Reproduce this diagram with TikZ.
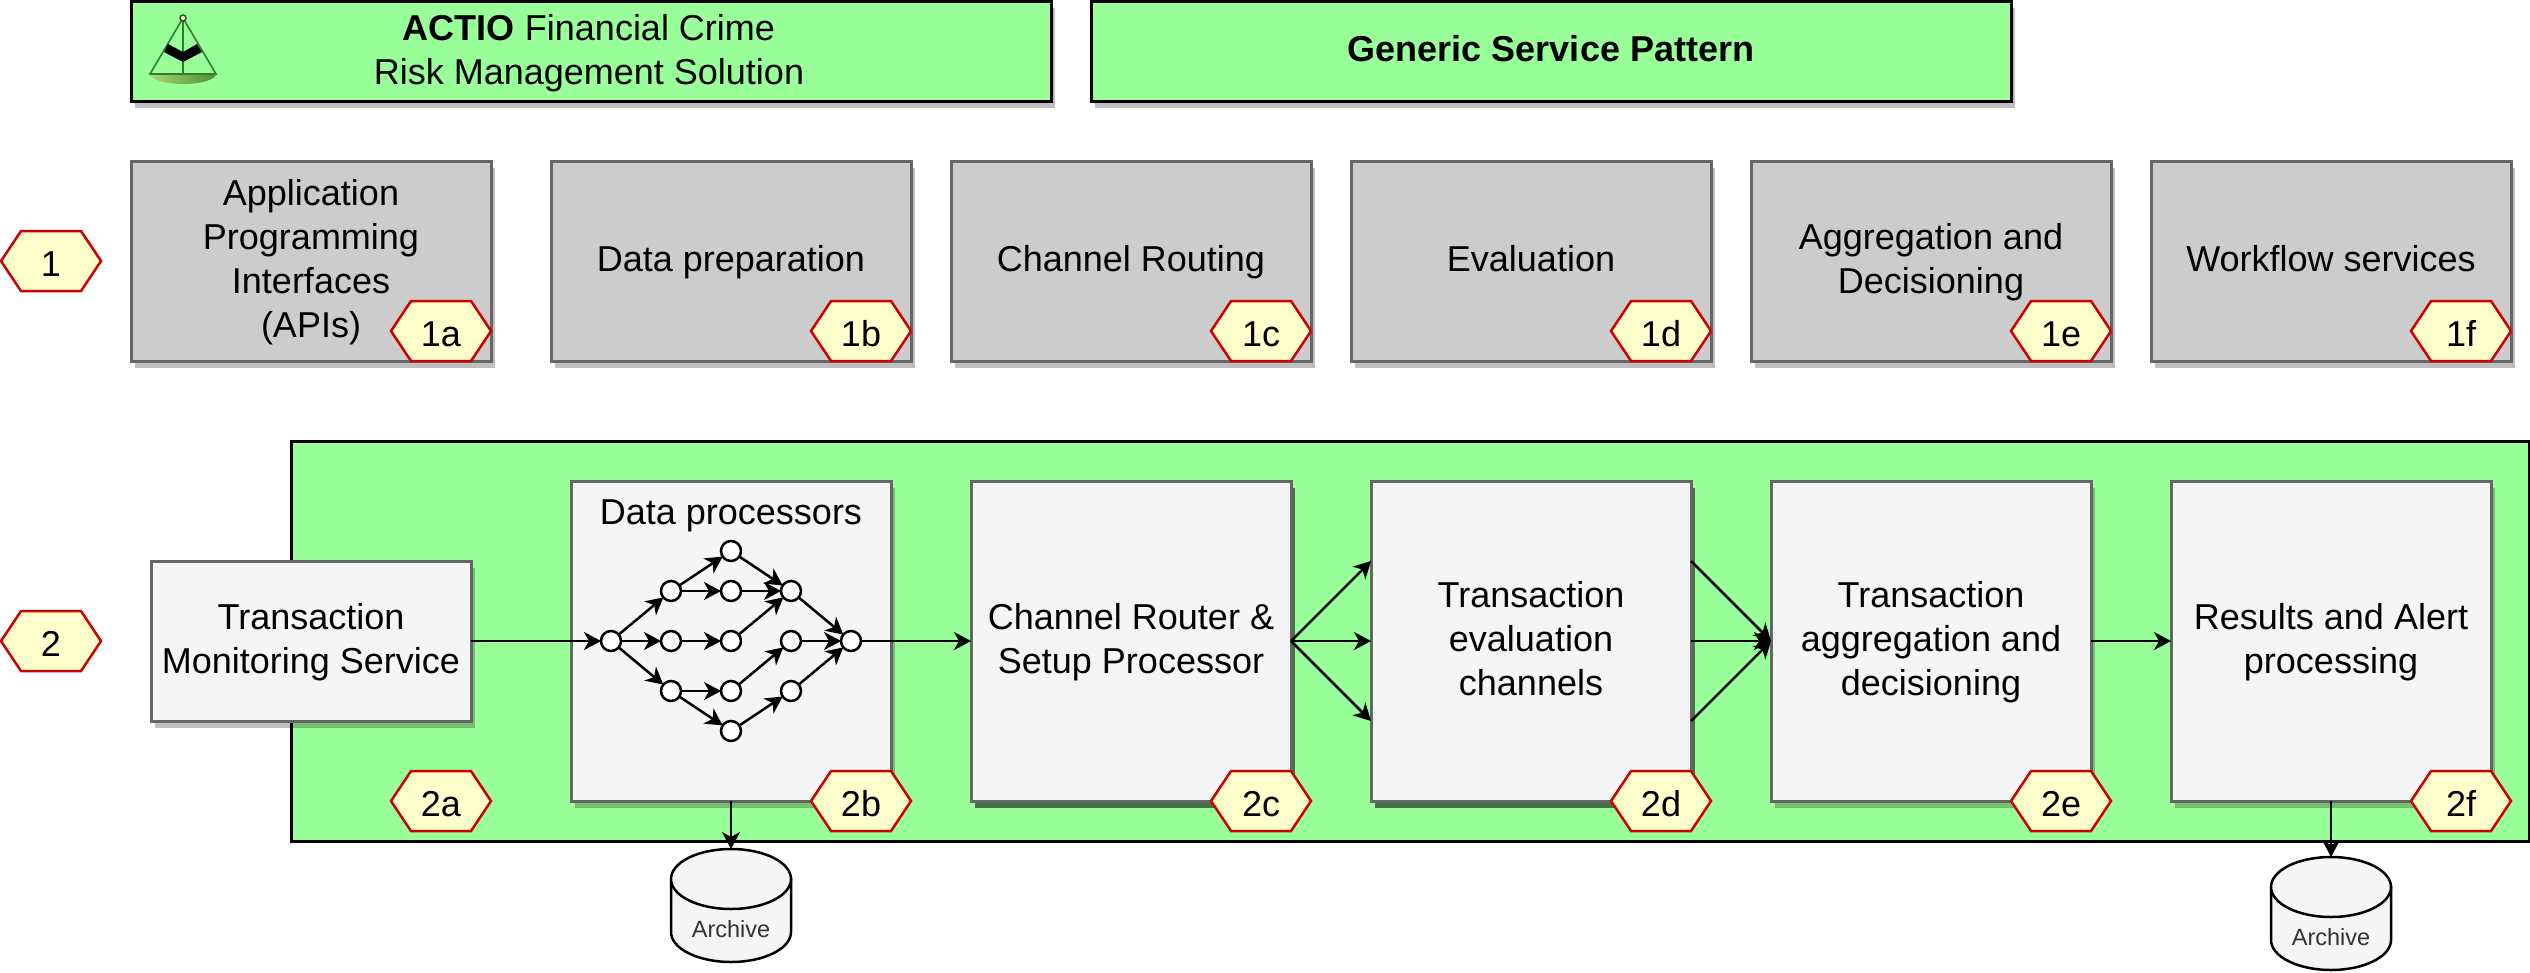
\documentclass[tikz,border=0pt]{standalone}
\usepackage{fontspec}
\setmainfont{Liberation Sans}
\usetikzlibrary{arrows.meta,shadows,shadings}
\definecolor{cgreen}{HTML}{99FF99}
\definecolor{cgrey}{HTML}{CCCCCC}
\definecolor{cpale}{HTML}{F5F5F5}
\definecolor{cedge}{HTML}{666666}
\definecolor{chex}{HTML}{FFFFCC}
\definecolor{chexl}{HTML}{CC0000}
\definecolor{lgreen}{HTML}{2F7F2F}
\definecolor{panl}{HTML}{A6D873}
\definecolor{panr}{HTML}{4F8F35}
\newcommand\bigfont{\fontsize{36}{44}\selectfont}
\newcommand\tstrut{\rule[-10pt]{0pt}{41.8pt}}
\newcommand\ltxt[1]{\tstrut #1\tstrut}
\tikzset{
  x=1pt,y=-1pt,
  base/.style={outer sep=0pt,inner sep=0pt,align=center,font=\bigfont,text=black},
  softshadow/.style={general shadow={fill=black,opacity=#1,shadow xshift=4pt,shadow yshift=-6.5pt}},
  softshadow/.default=.25,
  titlebox/.style={base,draw=black,line width=3pt,fill=cgreen,minimum width=920pt,minimum height=100pt,softshadow},
  greybox/.style={base,draw=cedge,line width=3pt,fill=cgrey,minimum width=360pt,minimum height=200pt,softshadow},
  palebox/.style={base,draw=cedge,line width=3pt,fill=cpale,minimum width=320pt,minimum height=320pt,softshadow=#1},
  palebox/.default=.25,
  hexline/.style={draw=chexl,line width=2.5pt,fill=chex,line join=miter},
  hexlabel/.style={base},
  dot/.style={circle,draw=black,fill=white,line width=2.5pt,minimum size=20pt,inner sep=0pt,outer sep=0pt},
  arr/.style={draw=black,line width=2.5pt,-{Stealth[length=17pt,width=18pt,inset=5pt]}},
  cyl/.style={draw=black,line width=2.5pt,fill=cpale},
  cyllabel/.style={outer sep=0pt,inner sep=0pt,font=\fontsize{23.5}{28}\selectfont,text=black!80},
}
\newcommand\hexn[3]{\begin{scope}[shift={(#2)}]
  \path[hexline] (-50,0)--(-30,-30)--(30,-30)--(50,0)--(30,30)--(-30,30)--cycle;
  \node[hexlabel] (#1) at (0,4.5) {\ltxt{#3}};
\end{scope}}
\newcommand\cylin[3]{% name, top-centre, height
\begin{scope}[shift={(#2)}]
  \path[cyl] (-60,30) -- (60,30) -- (60,#3-30)
     arc[x radius=60,y radius=30,start angle=0,end angle=180] -- cycle;
  \path[cyl] (0,30) ellipse[x radius=60,y radius=30];
  \coordinate (#1top) at (0,0);
  \node[cyllabel] (#1) at (0,80.5) {Archive};
\end{scope}}
\begin{document}
\begin{tikzpicture}
\useasboundingbox (0,0) rectangle (2530,972);
% title boxes
\node[titlebox] (title1) at (591,51) {};
\node[base] (title1text) at (589,51.5) {\ltxt{\textbf{ACTIO} Financial Crime\\Risk Management Solution}};
\node[titlebox] (title2) at (1551,51) {\ltxt{\textbf{Generic Service Pattern}}};
% logo
\shade[left color=panl,right color=panr] (150,74) arc[x radius=33,y radius=10,start angle=180,end angle=0] -- cycle;
\draw[lgreen,line width=1.6pt] (150,74) -- (183,18) -- (216,74) -- cycle (183,18) -- (183,74);
\fill[black] (168,44) -- (183,52) -- (197,44) -- (202,52) -- (183,62) -- (164,52) -- cycle;
\draw[lgreen!70!black,fill=white,line width=1.5pt] (183,18) circle (3);
% group labels
\hexn{h1}{51,261}{1}
\hexn{h2}{51,641}{2}
% row 1
\node[greybox] (a1box) at (311,261) {\ltxt{Application\\Programming\\Interfaces\\(APIs)}};
\node[greybox] (b1box) at (731,261) {\ltxt{Data preparation}};
\node[greybox] (c1box) at (1131,261) {\ltxt{Channel Routing}};
\node[greybox] (d1box) at (1531,261) {\ltxt{Evaluation}};
\node[greybox] (e1box) at (1931,261) {\ltxt{Aggregation and\\Decisioning}};
\node[greybox] (f1box) at (2331,261) {\ltxt{Workflow services}};
\hexn{h1a}{441,331}{1a}
\hexn{h1b}{861,331}{1b}
\hexn{h1c}{1261,331}{1c}
\hexn{h1d}{1661,331}{1d}
\hexn{h1e}{2061,331}{1e}
\hexn{h1f}{2461,331}{1f}
% green band
\node[base,draw=black,line width=3pt,fill=cgreen,minimum width=2238pt,minimum height=400pt] (band) at (1410,641) {};
% row 2
\node[palebox,minimum height=160pt] (tms) at (311,641) {\ltxt{Transaction\\Monitoring Service}};
\node[palebox] (dp) at (731,641) {};
\node[base] (dptext) at (731,514) {\ltxt{Data processors}};
\node[palebox=.55] (router) at (1131,641) {\ltxt{Channel Router \&\\Setup Processor}};
\node[palebox=.55] (evalch) at (1531,641) {\ltxt{Transaction\\evaluation\\channels}};
\node[palebox] (aggr) at (1931,641) {\ltxt{Transaction\\aggregation and\\decisioning}};
\node[palebox] (res) at (2331,641) {\ltxt{Results and Alert\\processing}};
\hexn{h2a}{441,801}{2a}
\hexn{h2b}{861,801}{2b}
\hexn{h2c}{1261,801}{2c}
\hexn{h2d}{1661,801}{2d}
\hexn{h2e}{2061,801}{2e}
\hexn{h2f}{2461,801}{2f}
% data processor network
\node[dot] (n0) at (611,641) {};
\node[dot] (p1) at (671,591) {};
\node[dot] (p2) at (671,641) {};
\node[dot] (p3) at (671,691) {};
\node[dot] (q1) at (731,551) {};
\node[dot] (q2) at (731,591) {};
\node[dot] (q3) at (731,641) {};
\node[dot] (q4) at (731,691) {};
\node[dot] (q5) at (731,731) {};
\node[dot] (r1) at (791,591) {};
\node[dot] (r2) at (791,641) {};
\node[dot] (r3) at (791,691) {};
\node[dot] (s0) at (851,641) {};
\foreach \u/\v in {n0/p1,n0/p2,n0/p3,p1/q1,p1/q2,p2/q3,p3/q4,p3/q5,q1/r1,q2/r1,q3/r1,q4/r2,q5/r3,r1/s0,r2/s0,r3/s0}
  \draw[arr] (\u) -- (\v);
% main connectors
\draw[arr] (tms.east) -- (n0);
\draw[arr] (s0) -- (router.west);
\coordinate (evalN) at (1371,561);
\coordinate (evalS) at (1371,721);
\coordinate (evalNo) at (1691,561);
\coordinate (evalSo) at (1691,721);
\draw[arr] (router.east) -- (evalN);
\draw[arr] (router.east) -- (evalch.west);
\draw[arr] (router.east) -- (evalS);
\draw[arr] (evalNo) -- (aggr.west);
\draw[arr] (evalch.east) -- (aggr.west);
\draw[arr] (evalSo) -- (aggr.west);
\draw[arr] (aggr.east) -- (res.west);
% archives
\cylin{arch1}{731,849}{113}
\cylin{arch2}{2331,857}{113}
\coordinate (dpb) at (731,801);
\coordinate (resb) at (2331,801);
\draw[arr] (dpb) -- (arch1top);
\draw[arr] (resb) -- (arch2top);
\end{tikzpicture}
\end{document}
